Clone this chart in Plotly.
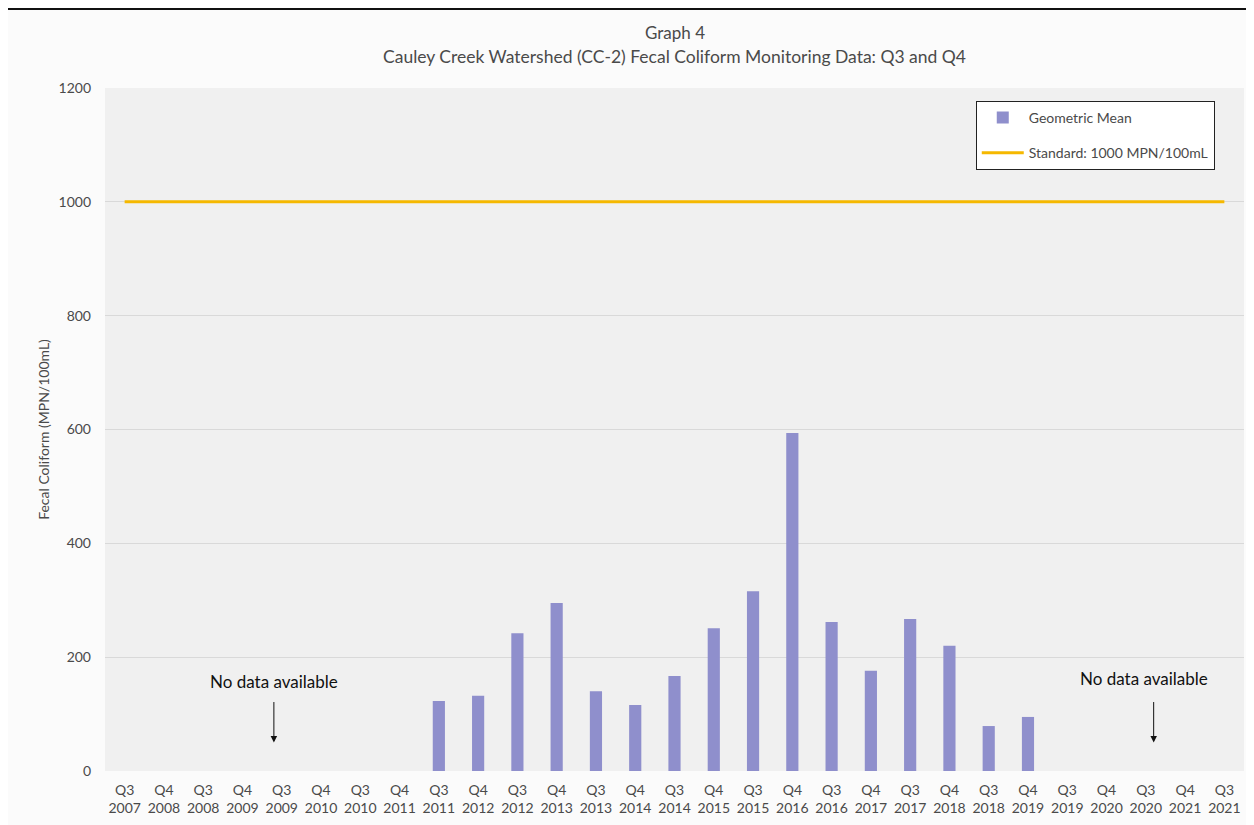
import plotly.graph_objects as go

quarters = ["Q3", "Q4", "Q3", "Q4", "Q3", "Q4", "Q3", "Q4", "Q3", "Q4", "Q3", "Q4", "Q3", "Q4", "Q3",
            "Q4", "Q3", "Q4", "Q3", "Q4", "Q3", "Q4", "Q3", "Q4", "Q3", "Q4", "Q3", "Q4", "Q3"]
years = ["2007", "2008", "2008", "2009", "2009", "2010", "2010", "2011", "2011", "2012", "2012", "2013",
         "2013", "2014", "2014", "2015", "2015", "2016", "2016", "2017", "2017", "2018", "2018", "2019",
         "2019", "2020", "2020", "2021", "2021"]
categories = [f"{q}<br>{y}" for q, y in zip(quarters, years)]

geo_mean = [None, None, None, None, None, None, None, None,
            123, 132, 242, 295, 140, 116, 167, 251, 316, 594, 262, 176, 267, 220, 79, 95,
            None, None, None, None, None]
standard = [1000] * len(categories)

y_ticks = [0, 200, 400, 600, 800, 1000, 1200]

font_family = "Lato"
text_color = "#4a4a4a"

fig = go.Figure()
fig.add_trace(go.Bar(
    x=categories, y=geo_mean, name="Geometric Mean",
    marker=dict(color="#8f8fcc", line=dict(width=0)),
    width=0.31, legendgroup="a",
))
fig.add_trace(go.Scatter(
    x=categories, y=standard, name="Standard: 1000 MPN/100mL",
    mode="lines", line=dict(color="#f5b800", width=3), legendgroup="b",
))

annotations = [
    dict(text="Graph 4", xref="paper", yref="paper", x=0.5, y=1.0, yshift=56,
         xanchor="center", yanchor="middle", showarrow=False,
         font=dict(size=17, color=text_color, family=font_family)),
    dict(text="Cauley Creek Watershed (CC-2) Fecal Coliform Monitoring Data: Q3 and Q4",
         xref="paper", yref="paper", x=0.5, y=1.0, yshift=32, xanchor="center", yanchor="middle",
         showarrow=False, font=dict(size=17.5, color=text_color, family=font_family)),
    dict(text="No data available", xref="x", yref="y", x=3.8, y=158, showarrow=False,
         font=dict(size=17, color="#111111", family=font_family)),
    dict(text="No data available", xref="x", yref="y", x=25.95, y=162, showarrow=False,
         font=dict(size=17, color="#111111", family=font_family)),
    dict(text="", xref="x", yref="y", x=3.8, y=50, ax=0, ay=-42, showarrow=True,
         arrowhead=2, arrowsize=1.3, arrowwidth=1, arrowcolor="#111111"),
    dict(text="", xref="x", yref="y", x=26.2, y=50, ax=0, ay=-42, showarrow=True,
         arrowhead=2, arrowsize=1.3, arrowwidth=1, arrowcolor="#111111"),
]

fig.update_layout(
    width=1254, height=825,
    margin=dict(l=97, r=18, t=80, b=62),
    paper_bgcolor="#fbfbfb",
    plot_bgcolor="#f0f0f0",
    font=dict(family=font_family, size=14, color=text_color),
    showlegend=True,
    legend=dict(x=0.7645, y=0.981, xanchor="left", yanchor="top",
                bgcolor="#ffffff", bordercolor="#222222", borderwidth=1,
                font=dict(size=14, color=text_color, family=font_family),
                tracegroupgap=14, itemwidth=42),
    annotations=annotations,
    shapes=[dict(type="line", xref="paper", yref="paper", x0=-0.1, x1=1.02, y0=1.1156, y1=1.1156,
                 line=dict(color="#111111", width=2))],
)
fig.update_xaxes(showgrid=False, showline=False, ticks="", tickfont=dict(size=14, color=text_color),
                 tickangle=0, ticklabelstandoff=9)
fig.update_yaxes(range=[0, 1200], tickvals=y_ticks, showgrid=True, gridcolor="#d9d9d9", gridwidth=1,
                 zeroline=False, showline=False, ticks="", ticklabelstandoff=13,
                 tickfont=dict(size=14, color=text_color),
                 title=dict(text="Fecal Coliform (MPN/100mL)", font=dict(size=14, color=text_color),
                            standoff=5))

fig.write_html("out.html")
